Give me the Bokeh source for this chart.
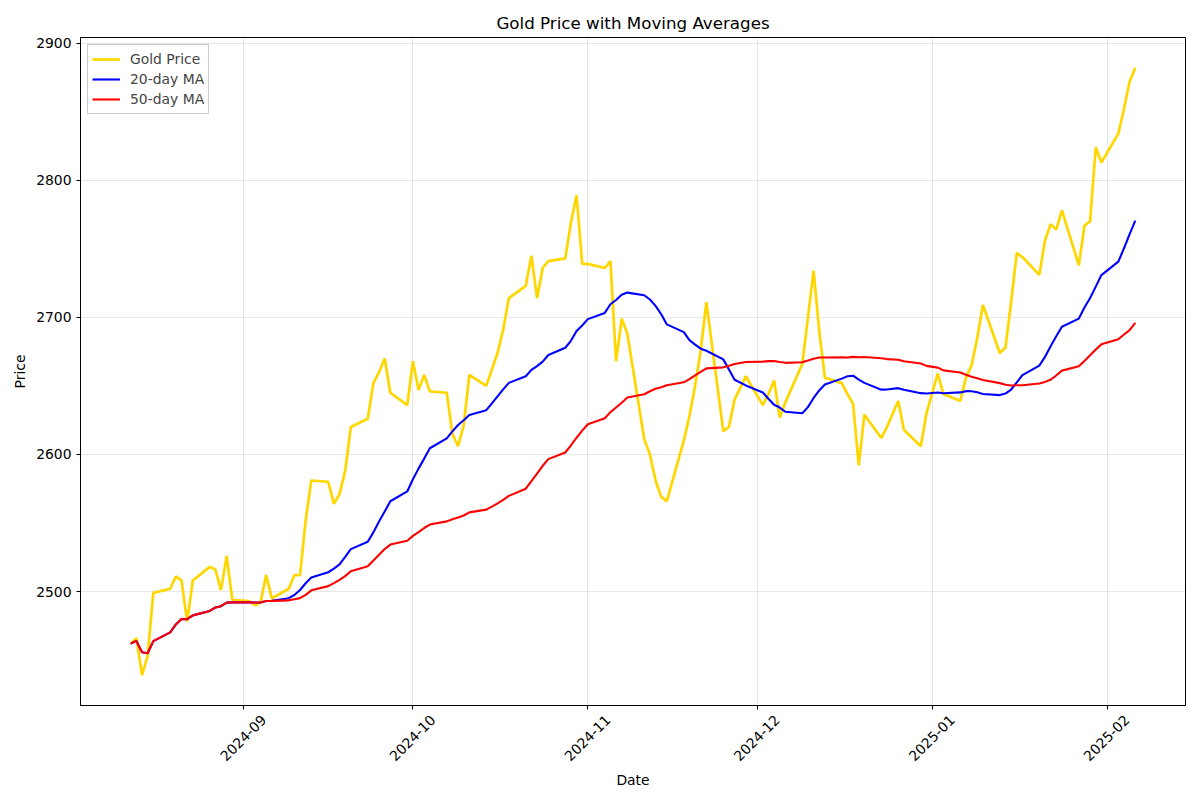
import math
import pandas as pd
from bokeh.plotting import figure
from bokeh.models import (DatetimeTickFormatter, FixedTicker, Legend, LegendItem,
                          ColumnDataSource, DatetimeAxis)
from bokeh.embed import file_html
from bokeh.resources import INLINE

dates = [
    "2024-08-12", "2024-08-13", "2024-08-14", "2024-08-15", "2024-08-16",
    "2024-08-19", "2024-08-20", "2024-08-21", "2024-08-22", "2024-08-23",
    "2024-08-26", "2024-08-27", "2024-08-28", "2024-08-29", "2024-08-30",
    "2024-09-02", "2024-09-03", "2024-09-04", "2024-09-05", "2024-09-06",
    "2024-09-09", "2024-09-10", "2024-09-11", "2024-09-12", "2024-09-13",
    "2024-09-16", "2024-09-17", "2024-09-18", "2024-09-19", "2024-09-20",
    "2024-09-23", "2024-09-24", "2024-09-25", "2024-09-26", "2024-09-27",
    "2024-09-30", "2024-10-01", "2024-10-02", "2024-10-03", "2024-10-04",
    "2024-10-07", "2024-10-08", "2024-10-09", "2024-10-10", "2024-10-11",
    "2024-10-14", "2024-10-15", "2024-10-16", "2024-10-17", "2024-10-18",
    "2024-10-21", "2024-10-22", "2024-10-23", "2024-10-24", "2024-10-25",
    "2024-10-28", "2024-10-29", "2024-10-30", "2024-10-31", "2024-11-01",
    "2024-11-04", "2024-11-05", "2024-11-06", "2024-11-07", "2024-11-08",
    "2024-11-11", "2024-11-12", "2024-11-13", "2024-11-14", "2024-11-15",
    "2024-11-18", "2024-11-19", "2024-11-20", "2024-11-21", "2024-11-22",
    "2024-11-25", "2024-11-26", "2024-11-27", "2024-11-29",
    "2024-12-02", "2024-12-03", "2024-12-04", "2024-12-05", "2024-12-06",
    "2024-12-09", "2024-12-10", "2024-12-11", "2024-12-12", "2024-12-13",
    "2024-12-16", "2024-12-17", "2024-12-18", "2024-12-19", "2024-12-20",
    "2024-12-23", "2024-12-24", "2024-12-26", "2024-12-27",
    "2024-12-30", "2024-12-31", "2025-01-02", "2025-01-03",
    "2025-01-06", "2025-01-07", "2025-01-08", "2025-01-09", "2025-01-10",
    "2025-01-13", "2025-01-14", "2025-01-15", "2025-01-16", "2025-01-17",
    "2025-01-20", "2025-01-21", "2025-01-22", "2025-01-23", "2025-01-24",
    "2025-01-27", "2025-01-28", "2025-01-29", "2025-01-30", "2025-01-31",
    "2025-02-03", "2025-02-04", "2025-02-05", "2025-02-06",
]

gold_price = [
    2462, 2466, 2439, 2453, 2499,
    2502, 2511, 2508, 2478, 2508,
    2518, 2516, 2501, 2526, 2494,
    2493, 2490, 2492, 2512, 2495,
    2502, 2512, 2512, 2552, 2581,
    2580, 2564, 2571, 2588, 2620,
    2626, 2652, 2660, 2670, 2645,
    2636, 2668, 2647, 2658, 2646,
    2645, 2615, 2606, 2621, 2658,
    2650, 2662, 2674, 2691, 2714,
    2723, 2745, 2714, 2736, 2741,
    2743, 2769, 2789, 2739, 2739,
    2736, 2741, 2668, 2699, 2688,
    2611, 2600, 2581, 2569, 2566,
    2610, 2628, 2650, 2676, 2711,
    2617, 2620, 2640, 2657,
    2636, 2644, 2654, 2627, 2638,
    2666, 2700, 2734, 2690, 2656,
    2652, 2644, 2637, 2592, 2629,
    2612, 2620, 2639, 2618,
    2606, 2630, 2659, 2644,
    2639, 2656, 2665, 2685, 2709,
    2674, 2678, 2711, 2747, 2744,
    2731, 2756, 2768, 2764, 2778,
    2738, 2767, 2770, 2824, 2813,
    2834, 2852, 2872, 2882,
]

month_ticks = ["2024-09-01", "2024-10-01", "2024-11-01", "2024-12-01", "2025-01-01", "2025-02-01"]
price_ticks = [2500, 2600, 2700, 2800, 2900]

df = pd.DataFrame({"date": pd.to_datetime(dates), "price": gold_price})
df["ma20"] = df["price"].rolling(20, min_periods=1).mean()
df["ma50"] = df["price"].rolling(50, min_periods=1).mean()
src = ColumnDataSource(df)

FONT = "DejaVu Sans"
FS = "13.9px"

x0 = pd.Timestamp(dates[0]); x1 = pd.Timestamp(dates[-1])
span = x1 - x0
ymin, ymax = min(gold_price), max(gold_price)
yr = ymax - ymin

p = figure(width=1192, height=792, x_axis_type="datetime",
           output_backend="svg", toolbar_location=None,
           x_range=(x0 - span * 0.05, x1 + span * 0.05),
           y_range=(ymin - yr * 0.05, ymax + yr * 0.05),
           min_border_left=80, min_border_right=7, min_border_top=37, min_border_bottom=87)

p.title.text = "Gold Price with Moving Averages"
p.title.align = "center"
p.title.text_font = FONT
p.title.text_font_size = "16.7px"
p.title.text_font_style = "normal"
p.title.text_color = "black"

r1 = p.line("date", "price", source=src, color="#FFD700", line_width=2.7)
r2 = p.line("date", "ma20", source=src, color="blue", line_width=2.1)
r3 = p.line("date", "ma50", source=src, color="red", line_width=2.1)

tick_ms = [pd.Timestamp(t).value // 10**6 for t in month_ticks]
# shift so that the rotated label's centre sits under its tick (as matplotlib does)
shift_ms = int(3.55 * 86400000)
label_ms = [t + shift_ms for t in tick_ms]
fmt = DatetimeTickFormatter(months="%Y-%m", days="%Y-%m", years="%Y-%m", hours="%Y-%m")

# main axis: tick marks only (labels hidden)
xa = p.xaxis[0]
xa.ticker = FixedTicker(ticks=tick_ms)
xa.formatter = fmt
xa.major_label_text_alpha = 0
xa.major_label_standoff = 0
p.xgrid[0].ticker = FixedTicker(ticks=tick_ms)

# second axis: rotated labels and axis title
xl = DatetimeAxis(ticker=FixedTicker(ticks=label_ms), formatter=fmt)
xl.major_label_orientation = math.pi / 4
xl.axis_line_color = None
xl.major_tick_line_color = None
xl.minor_tick_line_color = None
xl.major_tick_in = 0
xl.major_tick_out = 0
xl.major_label_standoff = 8
xl.axis_label = "Date"
xl.axis_label_standoff = 3
p.add_layout(xl, "below")

p.yaxis.ticker = FixedTicker(ticks=price_ticks)

for ax in (xa, xl, p.yaxis[0]):
    ax.axis_label_text_font = FONT
    ax.axis_label_text_font_size = FS
    ax.axis_label_text_font_style = "normal"
    ax.major_label_text_font = FONT
    ax.major_label_text_font_size = FS
    ax.axis_label_text_color = "black"
    ax.major_label_text_color = "black"
    ax.minor_tick_in = 0
    ax.minor_tick_out = 0
for ax in (xa, p.yaxis[0]):
    ax.major_tick_in = 0
    ax.major_tick_out = 4
    ax.axis_line_color = "black"
    ax.major_tick_line_color = "black"
p.yaxis[0].axis_label = "Price"

p.grid.grid_line_color = "#b0b0b0"
p.grid.grid_line_alpha = 0.3
p.outline_line_color = "black"
p.outline_line_alpha = 1
p.background_fill_color = "white"

legend = Legend(items=[
    LegendItem(label="Gold Price", renderers=[r1]),
    LegendItem(label="20-day MA", renderers=[r2]),
    LegendItem(label="50-day MA", renderers=[r3]),
], location="top_left")
legend.label_text_font = FONT
legend.label_text_font_size = FS
legend.border_line_color = "#cccccc"
legend.border_line_alpha = 1
legend.background_fill_alpha = 0.8
legend.margin = 7
legend.padding = 4
legend.spacing = 0
legend.label_height = 20
legend.glyph_height = 20
legend.glyph_width = 28
legend.label_standoff = 10
p.add_layout(legend)

open("out.html", "w").write(file_html(p, INLINE))
